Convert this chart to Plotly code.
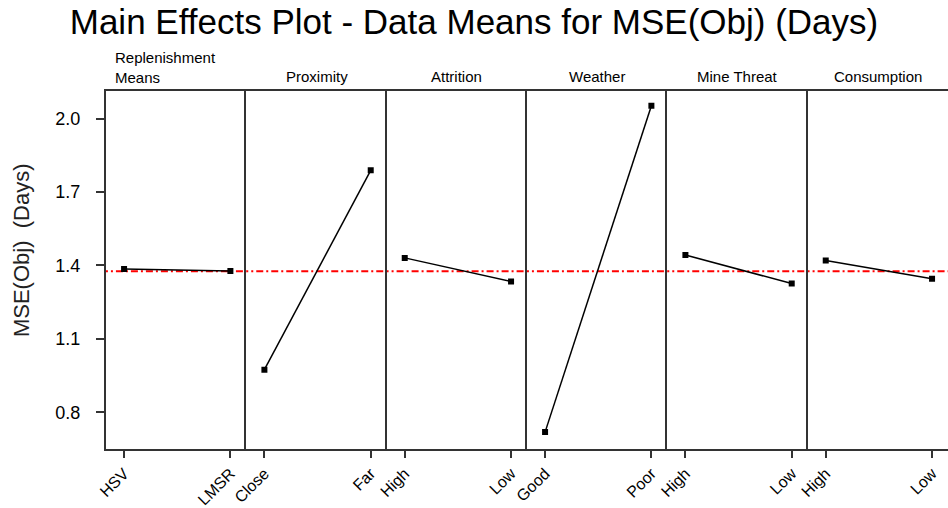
import plotly.graph_objects as go
from plotly.subplots import make_subplots

factors = ["Replenishment<br>Means", "Proximity", "Attrition", "Weather", "Mine Threat", "Consumption"]
levels = [["HSV", "LMSR"], ["Close", "Far"], ["High", "Low"], ["Good", "Poor"], ["High", "Low"], ["High", "Low"]]
means = [[1.386, 1.377], [0.974, 1.789], [1.431, 1.335], [0.719, 2.053], [1.443, 1.326], [1.420, 1.346]]
grand_mean = 1.376
y_ticks = [0.8, 1.1, 1.4, 1.7, 2.0]

FONT = "Liberation Sans, Arial, sans-serif"
AX = "#333333"

n = len(factors)
fig = make_subplots(rows=1, cols=n, shared_yaxes=True, horizontal_spacing=0)

for i in range(n):
    c = i + 1
    xs = list(range(len(levels[i])))
    fig.add_trace(go.Scatter(x=[-0.5, 1.5], y=[grand_mean, grand_mean], mode="lines",
                             line=dict(color="#ff0000", width=2, dash="7px,3px,2px,3px"),
                             hoverinfo="skip", showlegend=False), row=1, col=c)
    fig.add_trace(go.Scatter(x=xs, y=means[i], mode="lines+markers",
                             line=dict(color="black", width=1.5),
                             marker=dict(symbol="square", size=6, color="black"),
                             showlegend=False), row=1, col=c)
    fig.update_xaxes(row=1, col=c, range=[-0.17, 1.15], tickmode="array", tickvals=xs,
                     ticktext=levels[i], tickangle=-45, ticks="outside", ticklen=7,
                     tickwidth=2, tickcolor=AX, showline=True, mirror=True, linecolor=AX,
                     linewidth=2, showgrid=False, zeroline=False,
                     tickfont=dict(family=FONT, size=16, color="black"))
    fig.update_yaxes(row=1, col=c, range=[0.65, 2.113], showline=True,
                     mirror=False, linecolor=AX, linewidth=2, showgrid=False,
                     zeroline=False, tickvals=y_ticks)
    if i == 0:
        fig.update_yaxes(row=1, col=c, ticks="outside", ticklen=8, tickwidth=2, tickcolor=AX,
                         ticktext=["%.1f" % v for v in y_ticks], showticklabels=True,
                         ticklabelstandoff=12,
                         tickfont=dict(family=FONT, size=18, color="black"))
    else:
        fig.update_yaxes(row=1, col=c, ticks="", showticklabels=False)

    if i == 0:
        fig.add_annotation(text=factors[i], xref="paper", x=7 / 842, xanchor="left",
                           yref="paper", y=1.0, yanchor="bottom", yshift=3, showarrow=False,
                           align="left", font=dict(family=FONT, size=15, color="black"))
    else:
        xref = "x domain" if c == 1 else "x%d domain" % c
        fig.add_annotation(text=factors[i], xref=xref, x=0.5, xanchor="center",
                           yref="paper", y=1.0, yanchor="bottom", yshift=4, showarrow=False,
                           font=dict(family=FONT, size=15, color="black"))

fig.add_annotation(text="MSE(Obj)  (Days)", xref="paper", x=-0.1, xanchor="center",
                   yref="paper", y=0.555, yanchor="middle", textangle=-90, showarrow=False,
                   font=dict(family=FONT, size=22, color="#222222"))

fig.update_layout(
    width=948, height=508,
    margin=dict(l=106, r=0, t=91, b=56),
    paper_bgcolor="white", plot_bgcolor="white",
    title=dict(text="Main Effects Plot - Data Means for MSE(Obj) (Days)", x=0.5, xanchor="center",
               xref="container", y=1 - 22 / 508, yanchor="middle", yref="container",
               font=dict(family=FONT, size=35, color="black")),
)

fig.write_html("out.html")
